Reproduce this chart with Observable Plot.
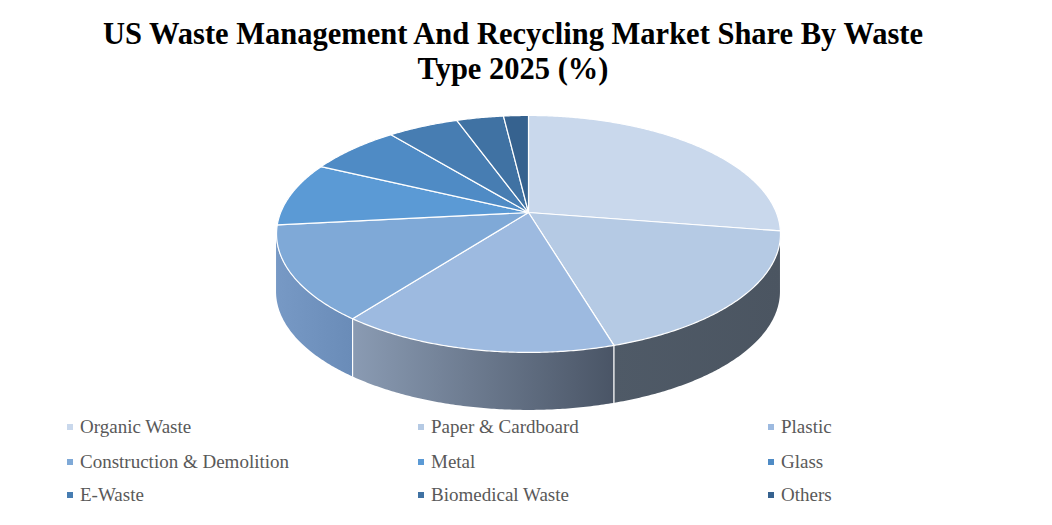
<!DOCTYPE html>
<html><head><meta charset="utf-8">
<script src="https://cdn.jsdelivr.net/npm/d3@7"></script>
<script src="https://cdn.jsdelivr.net/npm/@observablehq/plot@0.6"></script>
<style>
body{margin:0;background:#fff;width:1052px;height:525px;overflow:hidden}
#title{height:100px;box-sizing:border-box;padding-top:17px;padding-right:26px;text-align:center;font:bold 30.5px "Liberation Serif",serif;line-height:35px;color:#000}
#chart{height:315px}
#legend{position:relative;height:110px;font:19px "Liberation Serif",serif;color:#595959}
.item{position:absolute;white-space:nowrap;line-height:22px}
.sw{display:inline-block;width:6px;height:6px;margin-right:7px;vertical-align:middle;position:relative;top:-2px}
</style></head><body>
<div id="title">US Waste Management And Recycling Market Share By Waste<br>Type 2025 (%)</div>
<div id="chart"></div>
<div id="legend"></div>
<script>
// ---- data ----
const categories = ["Organic Waste","Paper & Cardboard","Plastic","Construction & Demolition","Metal","Glass","E-Waste","Biomedical Waste","Others"];
const shares = [27.5, 17.9, 15.0, 12.9, 8.8, 7.0, 5.4, 3.6, 1.9];
// ---- styles ----
const topColors = ["#c9d8ec","#b5cae4","#9dbae0","#7fa9d7","#5b9ad5","#4f8bc5","#477db2","#4072a3","#36628f"];
const wallRightColors = ["#4c5662","#4b5561","#4a5566","#6a8cb8","#6a8cb8","#5a7ea8","#4f6f98","#456389","#3a5678"];
const wallLeftColors  = ["#4c5662","#4f5a67","#8a9bb3","#7799c5","#7799c5","#6a8cb8","#5d7fab","#52719c","#456389"];

// ---- geometry (perspective pie) ----
const W = 1052, H = 315;
const cx = 528, cy = 112, a = 247.8, b = 114.6, k = -0.181, depth = 58;
function proj(t) {
  const u = Math.sin(t), v = -Math.cos(t), s = 1 + k * v;
  return [cx + a * u / s, cy + b * v / s];
}
const total = d3.sum(shares);
const angles = [];
let acc = 0;
shares.forEach((s, i) => { const t0 = acc / total * 2 * Math.PI; acc += s; angles.push([t0, acc / total * 2 * Math.PI]); });

const tR = Math.acos(k), tL = 2 * Math.PI - Math.acos(k);
const step = Math.PI / 360;

const topRows = [];
angles.forEach(([t0, t1], i) => {
  topRows.push({slice: i, x: cx, y: cy});
  const n = Math.max(2, Math.ceil((t1 - t0) / step));
  for (let j = 0; j <= n; j++) { const [x, y] = proj(t0 + (t1 - t0) * j / n); topRows.push({slice: i, x, y}); }
  topRows.push({slice: i, x: cx, y: cy});
});

// one wall strip per visible slice
const wallMarks = [];
const defsStops = [];
angles.forEach(([t0, t1], i) => {
  const lo = Math.max(t0, tR), hi = Math.min(t1, tL);
  if (lo >= hi) return;
  const n = Math.max(2, Math.ceil((hi - lo) / step));
  const rows = [];
  for (let j = 0; j <= n; j++) { const [x, y] = proj(lo + (hi - lo) * j / n); rows.push({x, y1: y, y2: y + depth}); }
  defsStops.push({id: "wall" + i, left: wallLeftColors[i], right: wallRightColors[i]});
  wallMarks.push(Plot.areaY(rows, {x: "x", y1: "y1", y2: "y2", fill: `url(#wall${i})`}));
});

const edgeRows = [];
angles.forEach(([t0]) => {
  if (t0 > tR && t0 < tL) { const [x, y] = proj(t0); edgeRows.push({x1: x, y1: y, x2: x, y2: y + depth}); }
});

const NS = "http://www.w3.org/2000/svg";
function gradientDefs() {
  const defs = document.createElementNS(NS, "defs");
  defsStops.forEach(g => {
    const lg = document.createElementNS(NS, "linearGradient");
    lg.setAttribute("id", g.id);
    lg.setAttribute("x1", "0"); lg.setAttribute("x2", "1"); lg.setAttribute("y1", "0"); lg.setAttribute("y2", "0");
    [[0, g.left], [1, g.right]].forEach(([o, c]) => {
      const st = document.createElementNS(NS, "stop");
      st.setAttribute("offset", o); st.setAttribute("stop-color", c);
      lg.appendChild(st);
    });
    defs.appendChild(lg);
  });
  return defs;
}

const chart = Plot.plot({
  width: W, height: H,
  margin: 0,
  x: {domain: [0, W], range: [0, W], axis: null},
  y: {domain: [0, H], range: [0, H], axis: null},
  color: {type: "identity"},
  marks: [
    gradientDefs,
    ...wallMarks,
    Plot.link(edgeRows, {x1: "x1", y1: "y1", x2: "x2", y2: "y2", stroke: "white", strokeWidth: 1.2}),
    Plot.line(topRows, {x: "x", y: "y", z: "slice", fill: d => topColors[d.slice], stroke: "white", strokeWidth: 1.2, curve: "linear"})
  ]
});
document.getElementById("chart").appendChild(chart);

// ---- legend ----
const legend = document.getElementById("legend");
const colX = [67, 418, 768], rowY = [1, 36, 69];
categories.forEach((c, i) => {
  const el = document.createElement("div");
  el.className = "item";
  el.style.left = colX[i % 3] + "px";
  el.style.top = rowY[Math.floor(i / 3)] + "px";
  el.innerHTML = `<span class="sw" style="background:${topColors[i]}"></span>`;
  el.appendChild(document.createTextNode(c));
  legend.appendChild(el);
});
</script>
</body></html>
